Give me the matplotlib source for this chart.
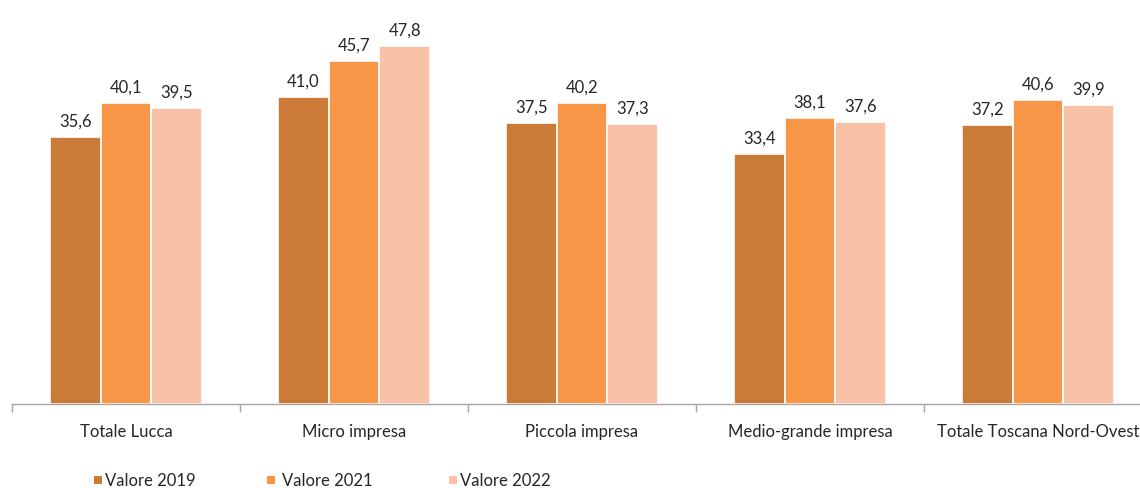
import matplotlib
matplotlib.use("Agg")
import matplotlib.pyplot as plt
import numpy as np
from matplotlib.patches import Rectangle

categories = ["Totale Lucca", "Micro impresa", "Piccola impresa", "Medio-grande impresa", "Totale Toscana Nord-Ovest"]
series_names = ["Valore 2019", "Valore 2021", "Valore 2022"]
v2019 = [35.6, 41.0, 37.5, 33.4, 37.2]
v2021 = [40.1, 45.7, 40.2, 38.1, 40.6]
v2022 = [39.5, 47.8, 37.3, 37.6, 39.9]
colors = ["#CB7A38", "#F79646", "#FAC1A6"]

plt.rcParams['font.family'] = ['Lato', 'DejaVu Sans']

fig = plt.figure(figsize=(11.4, 4.89), dpi=100)
W, H = 1140, 489
ax = fig.add_axes([12 / W, (H - 405) / H, 1140 / W, 375 / H])

x = np.arange(len(categories))
bw = 0.222
series = [v2019, v2021, v2022]
for i, (vals, c, name) in enumerate(zip(series, colors, series_names)):
    pos = x + (i - 1) * bw
    bars = ax.bar(pos, vals, width=bw, color=c, edgecolor="white", linewidth=1.2, label=name, zorder=2)
    for b, v in zip(bars, vals):
        ax.annotate(f"{v:.1f}".replace(".", ","), (b.get_x() + b.get_width() / 2, v),
                    xytext=(0, 6), textcoords="offset points", ha="center", va="bottom",
                    fontsize=12, color="#262626")

ax.set_xlim(-0.5, len(categories) - 0.5)
ax.set_ylim(0, 50)
for s in ["top", "right", "left"]:
    ax.spines[s].set_visible(False)
ax.spines["bottom"].set_color("#A6A6A6")
ax.spines["bottom"].set_linewidth(1.0)
ax.set_yticks([])
ax.set_xticks(x)
ax.set_xticklabels(categories, fontsize=12, color="#262626")
ax.tick_params(axis="x", which="major", length=0, pad=14)
ax.set_xticks(np.arange(-0.5, len(categories), 1.0), minor=True)
ax.tick_params(axis="x", which="minor", length=6, color="#A6A6A6", width=1.0)

# legend drawn manually
sq_x = [94, 267, 449]
txt_x = [105, 282, 460]
yc = 481
sq = 8
for c, name, sx, tx in zip(colors, series_names, sq_x, txt_x):
    fig.patches.append(Rectangle((sx / W, 1 - (yc + sq / 2) / H), sq / W, sq / H,
                                 transform=fig.transFigure, facecolor=c, edgecolor="none"))
    fig.text(tx / W, 1 - yc / H, name, ha="left", va="center", fontsize=12, color="#262626")

fig.savefig("out.png", dpi=100)
